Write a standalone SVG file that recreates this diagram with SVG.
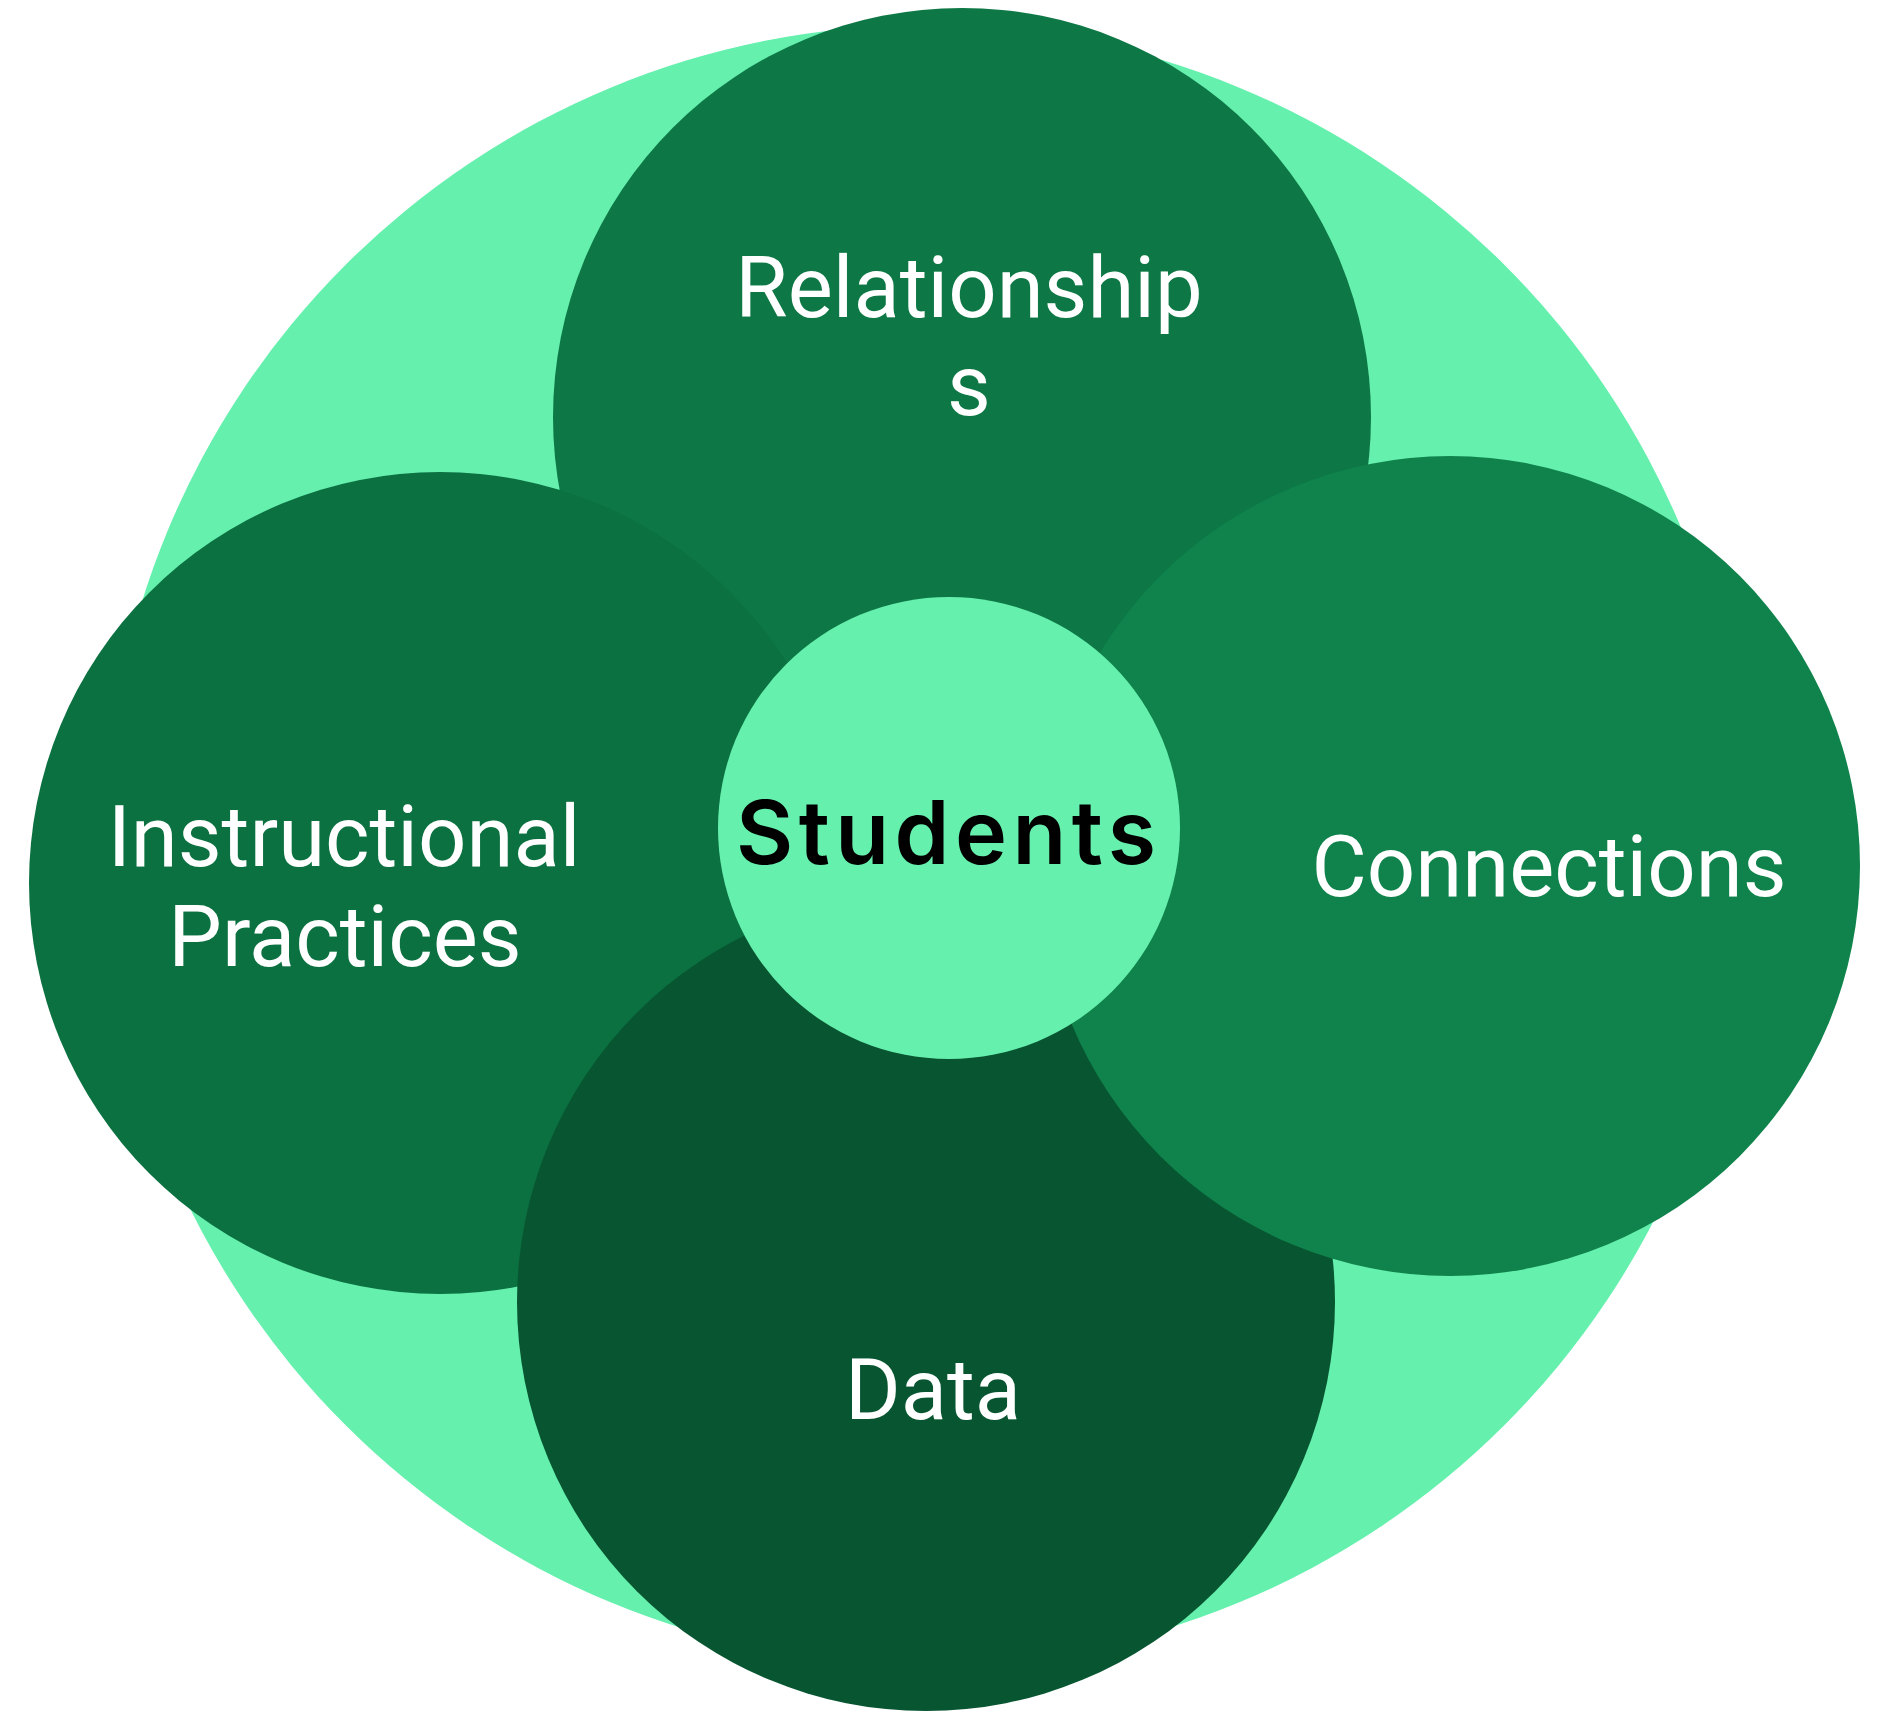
<svg xmlns="http://www.w3.org/2000/svg" width="1878" height="1712" viewBox="0 0 1878 1712">
<style>
.lbl{font-family:Roboto,"Liberation Sans",sans-serif;font-size:85px;fill:#FFFFFF;text-anchor:middle}
.ctr{font-family:Inter,"Liberation Sans",sans-serif;font-size:88px;font-weight:600;fill:#000000}
</style>
<rect width="1878" height="1712" fill="#FFFFFF"/>
<g id="outer"><circle cx="925" cy="845" r="820" fill="#66F0AE"/></g>
<g id="connectors"></g>
<g id="relationships">
<circle cx="962" cy="417" r="409" fill="#0D7845"/>
<text class="lbl" x="969" y="317">Relationship</text>
<text class="lbl" x="969" y="415">s</text>
</g>
<g id="instructional">
<circle cx="440" cy="883" r="411" fill="#0B7141"/>
<text class="lbl" x="344" y="866">Instructional</text>
<text class="lbl" x="345" y="966">Practices</text>
</g>
<g id="data">
<circle cx="926" cy="1302" r="409" fill="#085631"/>
<text class="lbl" x="933" y="1419">Data</text>
</g>
<g id="connections">
<circle cx="1450" cy="866" r="410" fill="#0F834B"/>
<text class="lbl" x="1549" y="896">Connections</text>
</g>
<g id="students">
<circle cx="949" cy="828" r="231" fill="#66F0AE"/>
<text class="ctr" x="736" y="864" textLength="420" lengthAdjust="spacing">Students</text>
</g>
</svg>
